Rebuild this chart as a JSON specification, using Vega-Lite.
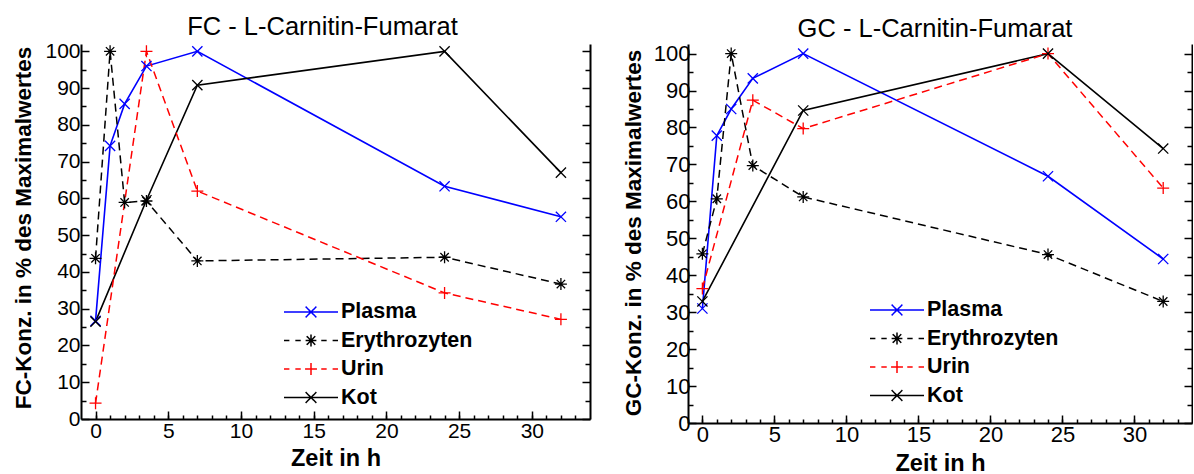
{
  "$schema": "https://vega.github.io/schema/vega-lite/v6.json",
  "padding": {"left": 11, "top": 14, "right": 0, "bottom": 0},
  "spacing": 31,
  "config": {
    "view": {"stroke": null},
    "font": "Liberation Sans",
    "axis": {"grid": false, "domainColor": "#000000", "tickColor": "#000000", "labelColor": "#000000", "titleColor": "#000000", "labelFont": "Liberation Sans", "titleFont": "Liberation Sans", "domainWidth": 2, "tickWidth": 1.5, "labelFontSize": 21, "titleFontSize": 22.5, "titleFontWeight": "bold", "labelFlush": false, "labelOverlap": false},
    "legend": {"padding": 0, "labelFont": "Liberation Sans", "labelFontSize": 21.5, "labelFontWeight": "bold", "labelColor": "#000000", "symbolSize": 2916, "symbolStrokeWidth": 1.5, "labelOffset": 2, "clipHeight": 22, "rowPadding": 6.5, "title": null}
  },
  "datasets": {
    "fc": [
      {"s": "Plasma", "t": 0, "v": 26.7}, {"s": "Plasma", "t": 1, "v": 74.3}, {"s": "Plasma", "t": 2, "v": 85.7}, {"s": "Plasma", "t": 3.5, "v": 96}, {"s": "Plasma", "t": 7, "v": 100}, {"s": "Plasma", "t": 24, "v": 63.3}, {"s": "Plasma", "t": 32, "v": 55},
      {"s": "Erythrozyten", "t": 0, "v": 43.7}, {"s": "Erythrozyten", "t": 1, "v": 100}, {"s": "Erythrozyten", "t": 2, "v": 58.9}, {"s": "Erythrozyten", "t": 3.5, "v": 59.3}, {"s": "Erythrozyten", "t": 7, "v": 43}, {"s": "Erythrozyten", "t": 24, "v": 44}, {"s": "Erythrozyten", "t": 32, "v": 36.7},
      {"s": "Urin", "t": 0, "v": 4.3}, {"s": "Urin", "t": 3.5, "v": 100}, {"s": "Urin", "t": 7, "v": 62}, {"s": "Urin", "t": 24, "v": 34.3}, {"s": "Urin", "t": 32, "v": 27.1},
      {"s": "Kot", "t": 0, "v": 26.5}, {"s": "Kot", "t": 3.5, "v": 59.5}, {"s": "Kot", "t": 7, "v": 90.8}, {"s": "Kot", "t": 24, "v": 100}, {"s": "Kot", "t": 32, "v": 67}
    ],
    "gc": [
      {"s": "Plasma", "t": 0, "v": 31}, {"s": "Plasma", "t": 1, "v": 77.8}, {"s": "Plasma", "t": 2, "v": 85}, {"s": "Plasma", "t": 3.5, "v": 93.3}, {"s": "Plasma", "t": 7, "v": 100}, {"s": "Plasma", "t": 24, "v": 66.8}, {"s": "Plasma", "t": 32, "v": 44.4},
      {"s": "Erythrozyten", "t": 0, "v": 45.8}, {"s": "Erythrozyten", "t": 1, "v": 60.7}, {"s": "Erythrozyten", "t": 2, "v": 100}, {"s": "Erythrozyten", "t": 3.5, "v": 69.7}, {"s": "Erythrozyten", "t": 7, "v": 61.2}, {"s": "Erythrozyten", "t": 24, "v": 45.6}, {"s": "Erythrozyten", "t": 32, "v": 32.9},
      {"s": "Urin", "t": 0, "v": 36.4}, {"s": "Urin", "t": 3.5, "v": 87.4}, {"s": "Urin", "t": 7, "v": 79.7}, {"s": "Urin", "t": 24, "v": 100}, {"s": "Urin", "t": 32, "v": 63.6},
      {"s": "Kot", "t": 0, "v": 32.9}, {"s": "Kot", "t": 7, "v": 84.6}, {"s": "Kot", "t": 24, "v": 100}, {"s": "Kot", "t": 32, "v": 74.3}
    ]
  },
  "resolve": {
    "scale": {"color": "independent"},
    "legend": {"color": "independent"}
  },
  "hconcat": [
    {
      "width": 509,
      "height": 375,
      "data": {"name": "fc"},
      "title": {"text": "FC - L-Carnitin-Fumarat", "fontSize": 25.5, "fontWeight": "normal", "font": "Liberation Sans", "color": "#000000", "offset": -20, "baseline": "alphabetic", "frame": "group", "dx": -13},
      "resolve": {"axis": {"x": "independent", "y": "independent"}},
      "layer": [
        {
          "transform": [{"filter": "datum.s === 'Plasma' || datum.s === 'Kot'"}],
          "mark": {"type": "line", "strokeWidth": 1.6},
          "encoding": {
            "x": {"field": "t", "type": "quantitative", "scale": {"domain": [-1, 34], "nice": false, "zero": false},
              "axis": {"orient": "bottom", "values": [0, 5, 10, 15, 20, 25, 30], "tickSize": -8, "labelPadding": 9, "title": "Zeit in h", "titleFontSize": 23.5, "titleX": 254.5, "titleY": 46, "titleBaseline": "alphabetic"}},
            "y": {"field": "v", "type": "quantitative", "scale": {"domain": [0, 102], "nice": false, "zero": false},
              "axis": {"orient": "left", "values": [0, 10, 20, 30, 40, 50, 60, 70, 80, 90, 100], "tickSize": -8, "labelPadding": 9, "title": "FC-Konz. in % des Maximalwertes", "titleX": -51, "titleY": 183.5, "titleBaseline": "alphabetic", "titleAngle": -90, "titleAlign": "center"}},
            "detail": {"field": "s", "type": "nominal"},
            "color": {"field": "s", "type": "nominal", "scale": {"domain": ["Plasma", "Erythrozyten", "Urin", "Kot"], "range": ["#0000ff", "#000000", "#ff0000", "#000000"]},
              "legend": {"orient": "none", "legendX": 202, "legendY": 257,
                "encode": {"symbols": {"update": {
                  "shape": {"signal": "datum.value === 'Plasma' || datum.value === 'Kot' ? 'M-1,0H1M-0.2,-0.2L0.2,0.2M-0.2,0.2L0.2,-0.2' : datum.value === 'Erythrozyten' ? 'M-1,0H-0.8M-0.58,0H-0.38M-0.2,0H0.2M0.38,0H0.58M0.8,0H1M0,-0.22V0.22M-0.16,-0.16L0.16,0.16M-0.16,0.16L0.16,-0.16' : 'M-1,0H-0.8M-0.58,0H-0.38M-0.22,0H0.22M0.38,0H0.58M0.8,0H1M0,-0.22V0.22'"},
                  "stroke": {"signal": "datum.value === 'Plasma' ? '#0000ff' : datum.value === 'Urin' ? '#ff0000' : '#000000'"},
                  "fill": {"value": "transparent"},
                  "strokeDash": {"value": [1, 0]},
                  "strokeWidth": {"value": 1.5}
                }}}}}
          }
        },
        {
          "transform": [{"filter": "datum.s === 'Erythrozyten' || datum.s === 'Urin'"}],
          "mark": {"type": "line", "strokeWidth": 1.5, "strokeDash": [8, 5]},
          "encoding": {
            "x": {"field": "t", "type": "quantitative", "scale": {"domain": [-1, 34], "nice": false, "zero": false},
              "axis": {"orient": "bottom", "values": [0, 1, 2, 3, 4, 5, 6, 7, 8, 9, 10, 11, 12, 13, 14, 15, 16, 17, 18, 19, 20, 21, 22, 23, 24, 25, 26, 27, 28, 29, 30, 31, 32, 33], "tickSize": -4, "labels": false, "domain": false, "title": null}},
            "y": {"field": "v", "type": "quantitative", "scale": {"domain": [0, 102], "nice": false, "zero": false},
              "axis": {"orient": "left", "values": [5, 15, 25, 35, 45, 55, 65, 75, 85, 95], "tickSize": -5, "labels": false, "domain": false, "title": null}},
            "detail": {"field": "s", "type": "nominal"},
            "color": {"field": "s", "type": "nominal", "scale": {"domain": ["Plasma", "Erythrozyten", "Urin", "Kot"], "range": ["#0000ff", "#000000", "#ff0000", "#000000"]},
              "legend": {"orient": "none", "legendX": 202, "legendY": 257,
                "encode": {"symbols": {"update": {
                  "shape": {"signal": "datum.value === 'Plasma' || datum.value === 'Kot' ? 'M-1,0H1M-0.2,-0.2L0.2,0.2M-0.2,0.2L0.2,-0.2' : datum.value === 'Erythrozyten' ? 'M-1,0H-0.8M-0.58,0H-0.38M-0.2,0H0.2M0.38,0H0.58M0.8,0H1M0,-0.22V0.22M-0.16,-0.16L0.16,0.16M-0.16,0.16L0.16,-0.16' : 'M-1,0H-0.8M-0.58,0H-0.38M-0.22,0H0.22M0.38,0H0.58M0.8,0H1M0,-0.22V0.22'"},
                  "stroke": {"signal": "datum.value === 'Plasma' ? '#0000ff' : datum.value === 'Urin' ? '#ff0000' : '#000000'"},
                  "fill": {"value": "transparent"},
                  "strokeDash": {"value": [1, 0]},
                  "strokeWidth": {"value": 1.5}
                }}}}}
          }
        },
        {
          "transform": [{"filter": "datum.s === 'Plasma'"}],
          "mark": {"type": "point", "filled": false, "strokeWidth": 1.3, "size": 144, "opacity": 1, "color": "#0000ff", "shape": "M-0.85,-0.85L0.85,0.85M-0.85,0.85L0.85,-0.85"},
          "encoding": {
            "x": {"field": "t", "type": "quantitative", "scale": {"domain": [-1, 34], "nice": false, "zero": false}, "axis": null},
            "y": {"field": "v", "type": "quantitative", "scale": {"domain": [0, 102], "nice": false, "zero": false},
              "axis": {"orient": "right", "values": [0, 10, 20, 30, 40, 50, 60, 70, 80, 90, 100], "tickSize": -8, "labels": false, "domain": true, "title": null}}
          }
        },
        {
          "transform": [{"filter": "datum.s === 'Erythrozyten'"}],
          "mark": {"type": "point", "filled": false, "strokeWidth": 1.3, "size": 144, "opacity": 1, "color": "#000000", "shape": "M-1,0H1M0,-1V1M-0.7,-0.7L0.7,0.7M-0.7,0.7L0.7,-0.7"},
          "encoding": {
            "x": {"field": "t", "type": "quantitative", "scale": {"domain": [-1, 34], "nice": false, "zero": false}, "axis": null},
            "y": {"field": "v", "type": "quantitative", "scale": {"domain": [0, 102], "nice": false, "zero": false},
              "axis": {"orient": "right", "values": [5, 15, 25, 35, 45, 55, 65, 75, 85, 95], "tickSize": -5, "labels": false, "domain": false, "title": null}}
          }
        },
        {
          "transform": [{"filter": "datum.s === 'Urin'"}],
          "mark": {"type": "point", "filled": false, "strokeWidth": 1.3, "size": 144, "opacity": 1, "color": "#ff0000", "shape": "M-1,0H1M0,-1V1"},
          "encoding": {
            "x": {"field": "t", "type": "quantitative", "scale": {"domain": [-1, 34], "nice": false, "zero": false}, "axis": null},
            "y": {"field": "v", "type": "quantitative", "scale": {"domain": [0, 102], "nice": false, "zero": false}, "axis": null}
          }
        },
        {
          "transform": [{"filter": "datum.s === 'Kot'"}],
          "mark": {"type": "point", "filled": false, "strokeWidth": 1.3, "size": 144, "opacity": 1, "color": "#000000", "shape": "M-0.85,-0.85L0.85,0.85M-0.85,0.85L0.85,-0.85"},
          "encoding": {
            "x": {"field": "t", "type": "quantitative", "scale": {"domain": [-1, 34], "nice": false, "zero": false}, "axis": null},
            "y": {"field": "v", "type": "quantitative", "scale": {"domain": [0, 102], "nice": false, "zero": false}, "axis": null}
          }
        }
      ]
    },
    {
      "width": 504,
      "height": 379,
      "data": {"name": "gc"},
      "title": {"text": "GC - L-Carnitin-Fumarat", "fontSize": 25.5, "fontWeight": "normal", "font": "Liberation Sans", "color": "#000000", "offset": -20, "baseline": "alphabetic", "frame": "group", "dx": -5},
      "resolve": {"axis": {"x": "independent", "y": "independent"}},
      "layer": [
        {
          "transform": [{"filter": "datum.s === 'Plasma' || datum.s === 'Kot'"}],
          "mark": {"type": "line", "strokeWidth": 1.6},
          "encoding": {
            "x": {"field": "t", "type": "quantitative", "scale": {"domain": [-1, 34], "nice": false, "zero": false},
              "axis": {"orient": "bottom", "values": [0, 5, 10, 15, 20, 25, 30], "tickSize": -8, "labelPadding": 9, "labelFontSize": 22, "title": "Zeit in h", "titleFontSize": 23.5, "titleX": 252, "titleY": 47, "titleBaseline": "alphabetic"}},
            "y": {"field": "v", "type": "quantitative", "scale": {"domain": [0, 102.6], "nice": false, "zero": false},
              "axis": {"orient": "left", "values": [0, 10, 20, 30, 40, 50, 60, 70, 80, 90, 100], "tickSize": -8, "labelPadding": 6, "labelFontSize": 22, "title": "GC-Konz. in % des Maximalwertes", "titleX": -48, "titleY": 188.5, "titleBaseline": "alphabetic", "titleAngle": -90, "titleAlign": "center"}},
            "detail": {"field": "s", "type": "nominal"},
            "color": {"field": "s", "type": "nominal", "scale": {"domain": ["Plasma", "Erythrozyten", "Urin", "Kot"], "range": ["#0000ff", "#000000", "#ff0000", "#000000"]},
              "legend": {"orient": "none", "legendX": 181, "legendY": 255,
                "encode": {"symbols": {"update": {
                  "shape": {"signal": "datum.value === 'Plasma' || datum.value === 'Kot' ? 'M-1,0H1M-0.2,-0.2L0.2,0.2M-0.2,0.2L0.2,-0.2' : datum.value === 'Erythrozyten' ? 'M-1,0H-0.8M-0.58,0H-0.38M-0.2,0H0.2M0.38,0H0.58M0.8,0H1M0,-0.22V0.22M-0.16,-0.16L0.16,0.16M-0.16,0.16L0.16,-0.16' : 'M-1,0H-0.8M-0.58,0H-0.38M-0.22,0H0.22M0.38,0H0.58M0.8,0H1M0,-0.22V0.22'"},
                  "stroke": {"signal": "datum.value === 'Plasma' ? '#0000ff' : datum.value === 'Urin' ? '#ff0000' : '#000000'"},
                  "fill": {"value": "transparent"},
                  "strokeDash": {"value": [1, 0]},
                  "strokeWidth": {"value": 1.5}
                }}}}}
          }
        },
        {
          "transform": [{"filter": "datum.s === 'Erythrozyten' || datum.s === 'Urin'"}],
          "mark": {"type": "line", "strokeWidth": 1.5, "strokeDash": [8, 5]},
          "encoding": {
            "x": {"field": "t", "type": "quantitative", "scale": {"domain": [-1, 34], "nice": false, "zero": false},
              "axis": {"orient": "bottom", "values": [0, 1, 2, 3, 4, 5, 6, 7, 8, 9, 10, 11, 12, 13, 14, 15, 16, 17, 18, 19, 20, 21, 22, 23, 24, 25, 26, 27, 28, 29, 30, 31, 32, 33], "tickSize": -4, "labels": false, "domain": false, "title": null}},
            "y": {"field": "v", "type": "quantitative", "scale": {"domain": [0, 102.6], "nice": false, "zero": false},
              "axis": {"orient": "left", "values": [5, 15, 25, 35, 45, 55, 65, 75, 85, 95], "tickSize": -5, "labels": false, "domain": false, "title": null}},
            "detail": {"field": "s", "type": "nominal"},
            "color": {"field": "s", "type": "nominal", "scale": {"domain": ["Plasma", "Erythrozyten", "Urin", "Kot"], "range": ["#0000ff", "#000000", "#ff0000", "#000000"]},
              "legend": {"orient": "none", "legendX": 181, "legendY": 255,
                "encode": {"symbols": {"update": {
                  "shape": {"signal": "datum.value === 'Plasma' || datum.value === 'Kot' ? 'M-1,0H1M-0.2,-0.2L0.2,0.2M-0.2,0.2L0.2,-0.2' : datum.value === 'Erythrozyten' ? 'M-1,0H-0.8M-0.58,0H-0.38M-0.2,0H0.2M0.38,0H0.58M0.8,0H1M0,-0.22V0.22M-0.16,-0.16L0.16,0.16M-0.16,0.16L0.16,-0.16' : 'M-1,0H-0.8M-0.58,0H-0.38M-0.22,0H0.22M0.38,0H0.58M0.8,0H1M0,-0.22V0.22'"},
                  "stroke": {"signal": "datum.value === 'Plasma' ? '#0000ff' : datum.value === 'Urin' ? '#ff0000' : '#000000'"},
                  "fill": {"value": "transparent"},
                  "strokeDash": {"value": [1, 0]},
                  "strokeWidth": {"value": 1.5}
                }}}}}
          }
        },
        {
          "transform": [{"filter": "datum.s === 'Plasma'"}],
          "mark": {"type": "point", "filled": false, "strokeWidth": 1.3, "size": 144, "opacity": 1, "color": "#0000ff", "shape": "M-0.85,-0.85L0.85,0.85M-0.85,0.85L0.85,-0.85"},
          "encoding": {
            "x": {"field": "t", "type": "quantitative", "scale": {"domain": [-1, 34], "nice": false, "zero": false}, "axis": null},
            "y": {"field": "v", "type": "quantitative", "scale": {"domain": [0, 102.6], "nice": false, "zero": false},
              "axis": {"orient": "right", "values": [0, 10, 20, 30, 40, 50, 60, 70, 80, 90, 100], "tickSize": -8, "labels": false, "domain": true, "title": null}}
          }
        },
        {
          "transform": [{"filter": "datum.s === 'Erythrozyten'"}],
          "mark": {"type": "point", "filled": false, "strokeWidth": 1.3, "size": 144, "opacity": 1, "color": "#000000", "shape": "M-1,0H1M0,-1V1M-0.7,-0.7L0.7,0.7M-0.7,0.7L0.7,-0.7"},
          "encoding": {
            "x": {"field": "t", "type": "quantitative", "scale": {"domain": [-1, 34], "nice": false, "zero": false}, "axis": null},
            "y": {"field": "v", "type": "quantitative", "scale": {"domain": [0, 102.6], "nice": false, "zero": false},
              "axis": {"orient": "right", "values": [5, 15, 25, 35, 45, 55, 65, 75, 85, 95], "tickSize": -5, "labels": false, "domain": false, "title": null}}
          }
        },
        {
          "transform": [{"filter": "datum.s === 'Urin'"}],
          "mark": {"type": "point", "filled": false, "strokeWidth": 1.3, "size": 144, "opacity": 1, "color": "#ff0000", "shape": "M-1,0H1M0,-1V1"},
          "encoding": {
            "x": {"field": "t", "type": "quantitative", "scale": {"domain": [-1, 34], "nice": false, "zero": false}, "axis": null},
            "y": {"field": "v", "type": "quantitative", "scale": {"domain": [0, 102.6], "nice": false, "zero": false}, "axis": null}
          }
        },
        {
          "transform": [{"filter": "datum.s === 'Kot'"}],
          "mark": {"type": "point", "filled": false, "strokeWidth": 1.3, "size": 144, "opacity": 1, "color": "#000000", "shape": "M-0.85,-0.85L0.85,0.85M-0.85,0.85L0.85,-0.85"},
          "encoding": {
            "x": {"field": "t", "type": "quantitative", "scale": {"domain": [-1, 34], "nice": false, "zero": false}, "axis": null},
            "y": {"field": "v", "type": "quantitative", "scale": {"domain": [0, 102.6], "nice": false, "zero": false}, "axis": null}
          }
        }
      ]
    }
  ]
}
